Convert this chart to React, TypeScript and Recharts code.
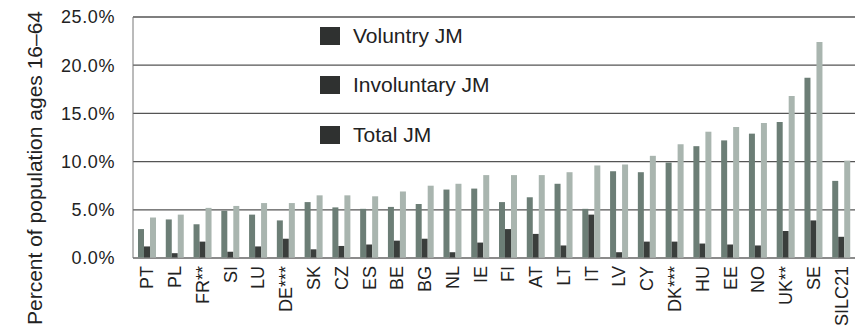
import React from "react";
import {
  Bar,
  BarChart,
  CartesianGrid,
  Legend,
  XAxis,
  YAxis,
} from "recharts";

const countries = [
  "PT", "PL", "FR**", "SI", "LU", "DE***", "SK", "CZ", "ES", "BE", "BG", "NL", "IE",
  "FI", "AT", "LT", "IT", "LV", "CY", "DK***", "HU", "EE", "NO", "UK**", "SE", "SILC21",
];
const voluntary = [
  3.0, 4.0, 3.5, 4.9, 4.5, 3.9, 5.8, 5.25, 5.1, 5.3, 5.6, 7.1, 7.2,
  5.8, 6.3, 7.7, 5.1, 9.0, 8.9, 9.9, 11.6, 12.2, 12.9, 14.1, 18.7, 8.0,
];
const involuntary = [
  1.2, 0.5, 1.7, 0.65, 1.2, 2.0, 0.9, 1.25, 1.4, 1.8, 2.0, 0.6, 1.6,
  3.0, 2.5, 1.3, 4.5, 0.6, 1.7, 1.7, 1.5, 1.4, 1.3, 2.8, 3.9, 2.2,
];
const total = [
  4.2, 4.5, 5.2, 5.4, 5.7, 5.7, 6.5, 6.5, 6.4, 6.9, 7.5, 7.7, 8.6,
  8.6, 8.6, 8.9, 9.6, 9.7, 10.6, 11.8, 13.1, 13.6, 14.0, 16.8, 22.4, 10.1,
];
const yTicks = [0, 5, 10, 15, 20, 25];
const legendLabels = ["Voluntry JM", "Involuntary JM", "Total JM"];

const data = countries.map((name, i) => ({
  name,
  voluntary: voluntary[i],
  involuntary: involuntary[i],
  total: total[i],
}));

const FONT = '"Liberation Sans", Arial, Helvetica, sans-serif';

// rotated country labels hanging below the axis
const CountryTick = ({ x, y, payload }: any) => (
  <text
    x={0}
    y={0}
    dy="0.36em"
    transform={`translate(${x},${y + 8}) rotate(-90)`}
    textAnchor="end"
    fontSize={18}
    fontFamily={FONT}
    fill="#222"
  >
    {payload.value}
  </text>
);

const YTitle = () => (
  <text
    transform="translate(42,168) rotate(-90)"
    textAnchor="middle"
    fontSize={21}
    fontFamily={FONT}
    fill="#222"
  >
    Percent of population ages 16–64
  </text>
);

const renderLegend = () => (
  <div style={{ fontFamily: FONT }}>
    {legendLabels.map((label) => (
      <div
        key={label}
        style={{ display: "flex", alignItems: "center", height: 49.5 }}
      >
        <span
          style={{
            display: "inline-block",
            width: 20,
            height: 18,
            background: "#2f3130",
            marginRight: 13,
          }}
        />
        <span style={{ fontSize: 21, color: "#222" }}>{label}</span>
      </div>
    ))}
  </div>
);

const App = () => {
  return (
    <div style={{ position: "absolute", left: 0, top: 0, background: "#fff" }}>
      <BarChart
        width={860}
        height={329}
        data={data}
        margin={{ top: 17, right: 5, bottom: 0, left: 0 }}
        barSize={6}
        barGap={0}
      >
        <CartesianGrid vertical={false} stroke="#555" strokeWidth={1.3} />
        <XAxis
          dataKey="name"
          interval={0}
          height={71}
          tickLine={false}
          tickSize={0}
          tickMargin={0}
          axisLine={{ stroke: "#999" }}
          tick={<CountryTick />}
        />
        <YAxis
          width={133}
          domain={[0, 25]}
          ticks={yTicks}
          tickFormatter={(v: number) => `${v.toFixed(1)}%`}
          tickLine={false}
          tickSize={0}
          tickMargin={18}
          axisLine={{ stroke: "#777" }}
          tick={{ fontSize: 18, fontFamily: FONT, fill: "#222", letterSpacing: 0.6 }}
          label={{ content: () => <YTitle /> }}
        />
        <Legend
          layout="vertical"
          align="center"
          verticalAlign="middle"
          content={renderLegend}
          wrapperStyle={{ left: 320, top: 11, width: 260 }}
        />
        <Bar dataKey="voluntary" fill="#6c7e76" isAnimationActive={false} />
        <Bar dataKey="involuntary" fill="#3a3e3c" isAnimationActive={false} />
        <Bar dataKey="total" fill="#a9b5af" isAnimationActive={false} />
      </BarChart>
    </div>
  );
};

export default App;
